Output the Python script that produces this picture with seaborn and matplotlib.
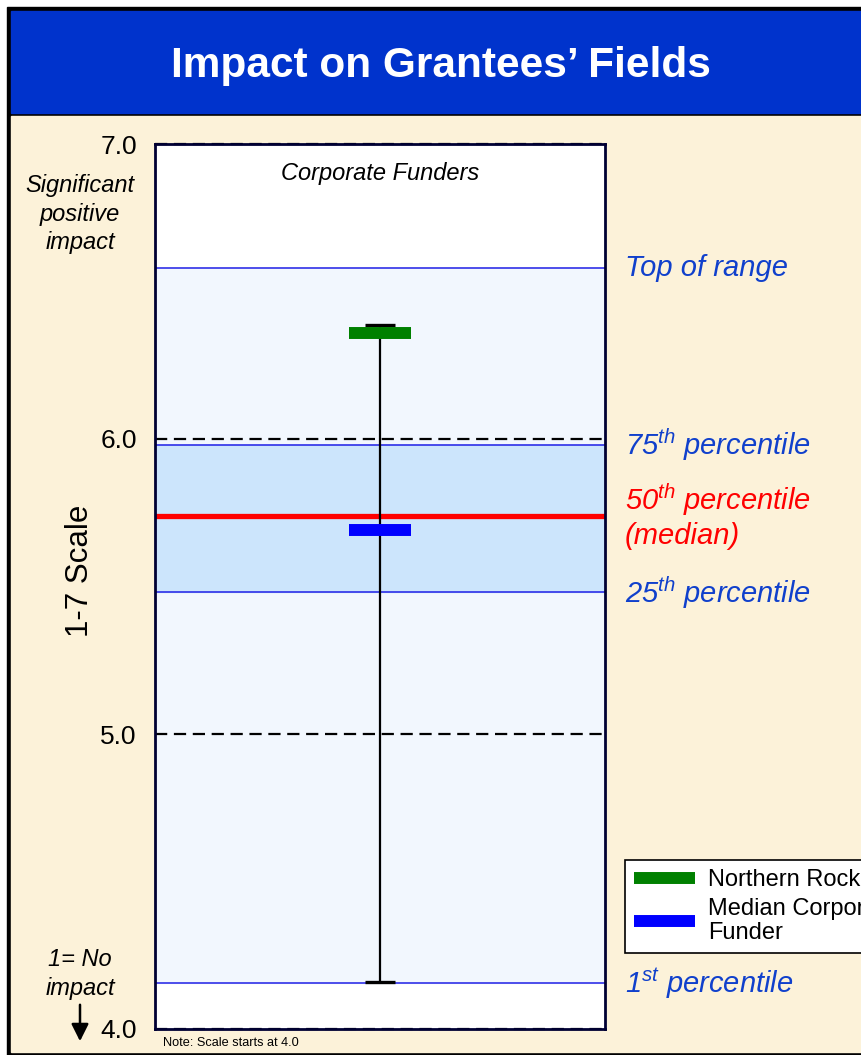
import matplotlib
matplotlib.use('Agg')
import matplotlib.pyplot as plt
from matplotlib.patches import Rectangle, FancyArrowPatch
from matplotlib.lines import Line2D
import seaborn as sns
import pandas as pd

# === data ===
pct_labels = ['Top of range', '75$^{th}$ percentile', '50$^{th}$ percentile\n(median)',
              '25$^{th}$ percentile', '1$^{st}$ percentile']
pct_values = [6.58, 5.98, 5.74, 5.48, 4.155]
funders = ['Northern Rock', 'Median Corporate\nFunder']
funder_scores = [6.36, 5.69]
range_low, range_high = 4.16, 6.385
yticks = [4.0, 5.0, 6.0, 7.0]
ytick_labels = ['4.0', '5.0', '6.0', '7.0']

sns.set_theme(style='white')
plt.rcParams['font.family'] = ['Liberation Sans', 'DejaVu Sans']
plt.rcParams['mathtext.fontset'] = 'custom'
plt.rcParams['mathtext.it'] = 'Liberation Sans:italic'
plt.rcParams['mathtext.rm'] = 'Liberation Sans'
plt.rcParams['text.color'] = 'black'
plt.rcParams['axes.labelcolor'] = 'black'
plt.rcParams['ytick.color'] = 'black'

W, H = 862, 1055
fig = plt.figure(figsize=(W / 100, H / 100), dpi=100, facecolor='white')

def fx(px):
    return px / W

def fy(py):
    return 1 - py / H

# frame, title band, cream panel
fig.add_artist(Rectangle((fx(7), 0), 1, fy(7), transform=fig.transFigure, color='black', zorder=-3))
fig.add_artist(Rectangle((fx(11), fy(113)), 1, (113 - 11) / H, transform=fig.transFigure,
                         color='#0033CC', zorder=-2))
fig.add_artist(Rectangle((fx(11), fy(1052)), 1, (1052 - 116) / H, transform=fig.transFigure,
                         color='#FCF2D9', zorder=-2))
fig.text(fx(441), fy(66), 'Impact on Grantees\u2019 Fields', color='white', weight='bold',
         fontsize=30.5, ha='center', va='center')

ax = fig.add_axes([fx(155), fy(1029), (605 - 155) / W, (1029 - 144) / H])
ax.set_facecolor('white')
ax.set_xlim(-1, 1)
ax.set_ylim(4, 7)

# percentile bands
ax.axhspan(pct_values[4], pct_values[0], color='#F2F7FE', zorder=0)
ax.axhspan(pct_values[3], pct_values[1], color='#CCE5FC', zorder=0)
for i, v in enumerate(pct_values):
    if i == 2:
        ax.axhline(v, color='#FF0000', lw=3.8, zorder=3)
    else:
        ax.axhline(v, color='#1F1FE6', lw=1.1, zorder=1)

# dashed grid at whole numbers
for v in yticks:
    ax.axhline(v, color='black', lw=1.6, ls=(0, (5.5, 3)), zorder=2, clip_on=False)

# range whisker
ax.vlines(0, range_low, range_high, color='black', lw=1.6, zorder=4)
ax.hlines([range_low, range_high], -0.067, 0.067, color='black', lw=2.4, zorder=4)

# funder markers
df = pd.DataFrame({'funder': funders, 'score': funder_scores, 'x': [0, 0]})
sns.scatterplot(data=df, x='x', y='score', hue='funder', palette=['#008000', '#0000FF'],
                marker='_', s=1930, linewidth=8.6, legend=False, ax=ax, zorder=5)

ax.set_xticks([])
ax.set_yticks(yticks)
ax.set_yticklabels(ytick_labels, fontsize=19)
ax.tick_params(axis='y', length=0, pad=13)
ax.set_xlabel('')
ax.set_ylabel('1-7 Scale', fontsize=22.5, ha='center', va='center')
ax.yaxis.set_label_coords((80 - 155) / 450, (1029 - 571) / 885)
for side in ['left', 'right', 'top', 'bottom']:
    ax.spines[side].set_color('#000033')
    ax.spines[side].set_linewidth(2)
    ax.spines[side].set_zorder(6)

ax.text(0.5, 0.967, 'Corporate Funders', transform=ax.transAxes, ha='center', va='center',
        fontsize=17, style='italic')

# right-hand labels
for i, (lab, v) in enumerate(zip(pct_labels, pct_values)):
    col = '#FF0000' if i == 2 else '#1040CC'
    ax.text(1.044, v, lab, transform=ax.get_yaxis_transform(), ha='left', va='center',
            fontsize=21, style='italic', color=col, clip_on=False)

# left annotations
fig.text(fx(80), fy(214), 'Significant\npositive\nimpact', ha='center', va='center',
         fontsize=17, style='italic', linespacing=1.32)
fig.text(fx(80), fy(974), '1= No\nimpact', ha='center', va='center',
         fontsize=17, style='italic', linespacing=1.3)
fig.add_artist(FancyArrowPatch((fx(80), fy(1002)), (fx(80), fy(1044)), transform=fig.transFigure,
                               arrowstyle='-|>', mutation_scale=26, color='black', lw=1.8))
fig.text(fx(163), fy(1043), 'Note: Scale starts at 4.0', ha='left', va='center', fontsize=9.2)

# legend
handles = [Line2D([], [], color='#008000', lw=8.6, solid_capstyle='butt'),
           Line2D([], [], color='#0000FF', lw=8.6, solid_capstyle='butt')]
leg = fig.legend(handles=handles, labels=funders, loc='upper left',
                 bbox_to_anchor=(fx(625), fy(860)), borderaxespad=0, frameon=True,
                 fancybox=False, edgecolor='black', framealpha=1, facecolor='white',
                 fontsize=17, handlelength=2.6, handletextpad=0.55, borderpad=0.38,
                 labelspacing=0.3)
leg.get_frame().set_linewidth(1.2)
for t in leg.get_texts():
    t.set_linespacing(1.12)

fig.savefig('out.png', dpi=100)
